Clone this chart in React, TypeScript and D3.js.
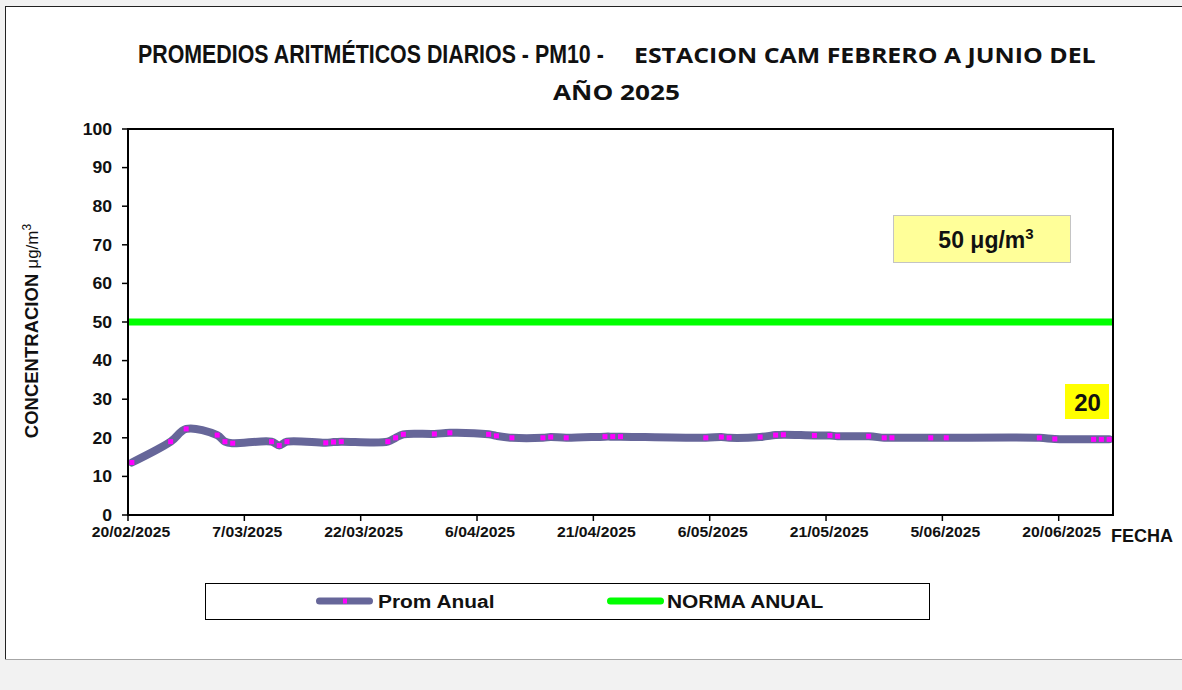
import React, { useEffect, useRef } from "react";
import * as d3 from "d3";

// fechas de muestreo y promedio (ug/m3)
const fechas = [
  "2025-02-20", "2025-02-25", "2025-02-27", "2025-03-03", "2025-03-04", "2025-03-05",
  "2025-03-10", "2025-03-11", "2025-03-12", "2025-03-17", "2025-03-18", "2025-03-19",
  "2025-03-25", "2025-03-26", "2025-03-27", "2025-03-31", "2025-04-02", "2025-04-07",
  "2025-04-08", "2025-04-10", "2025-04-14", "2025-04-15", "2025-04-17", "2025-04-22",
  "2025-04-23", "2025-04-24", "2025-05-05", "2025-05-07", "2025-05-08", "2025-05-12",
  "2025-05-14", "2025-05-15", "2025-05-19", "2025-05-21", "2025-05-22", "2025-05-26",
  "2025-05-28", "2025-05-29", "2025-06-03", "2025-06-05", "2025-06-17", "2025-06-19",
  "2025-06-24", "2025-06-25", "2025-06-26",
];
const promAnual = [
  13.6, 19.0, 22.3, 20.7, 19.0, 18.6,
  19.0, 18.0, 19.0, 18.7, 18.9, 19.0,
  19.0, 20.0, 20.9, 21.0, 21.3, 20.9,
  20.5, 20.0, 20.0, 20.2, 20.0, 20.3,
  20.3, 20.3, 20.0, 20.2, 20.0, 20.2,
  20.7, 20.8, 20.6, 20.6, 20.4, 20.4,
  20.0, 20.0, 20.0, 20.0, 20.0, 19.7,
  19.6, 19.6, 19.6,
];
const normaAnual = 50;
const rangoFechas = ["2025-02-20", "2025-06-27"];
const xTicks = [
  "2025-02-20", "2025-03-07", "2025-03-22", "2025-04-06", "2025-04-21",
  "2025-05-06", "2025-05-21", "2025-06-05", "2025-06-20",
];
const yTicks = [0, 10, 20, 30, 40, 50, 60, 70, 80, 90, 100];
const series = ["Prom Anual", "NORMA ANUAL"];
const titulo = ["PROMEDIOS ARITMÉTICOS DIARIOS - PM10 -", "ESTACION CAM FEBRERO A JUNIO DEL", "AÑO 2025"];
const etiquetaNorma = "50";
const etiquetaUltimo = "20";

const ARIAL = "'Liberation Sans', Arial, sans-serif";

export default function App() {
  const ref = useRef<SVGSVGElement>(null);

  useEffect(() => {
    const m = { left: 128, right: 1113, top: 129, bottom: 515 };
    const parse = d3.utcParse("%Y-%m-%d");
    const fmt = d3.utcFormat("%-d/%m/%Y");
    const x = d3.scaleUtc().domain(rangoFechas.map((s) => parse(s)!)).range([m.left, m.right]);
    const y = d3.scaleLinear().domain([0, 100]).range([m.bottom, m.top]);
    const data = fechas.map((f, i) => ({ date: d3.utcHour.offset(parse(f)!, 12), v: promAnual[i] }));

    const svg = d3.select(ref.current);
    svg.selectAll("*").remove();

    // texto comprimido/estirado en horizontal hasta un ancho dado
    const fitText = (tx: number, ty: number, w: number, txt: string, family: string, size: number) => {
      const t = svg.append("text").attr("font-family", family).attr("font-weight", "bold")
        .attr("font-size", size).attr("fill", "#111").text(txt);
      const n = (t.node() as SVGTextElement).getComputedTextLength() || w;
      t.attr("transform", `translate(${tx},${ty}) scale(${w / n},1)`);
      return t;
    };

    // panel blanco
    svg.append("rect").attr("x", 5).attr("y", 6).attr("width", 1177).attr("height", 653).attr("fill", "#fff");
    svg.append("line").attr("x1", 5.5).attr("x2", 5.5).attr("y1", 6).attr("y2", 659).attr("stroke", "#222");
    svg.append("line").attr("x1", 5).attr("x2", 1182).attr("y1", 6.5).attr("y2", 6.5).attr("stroke", "#222");
    svg.append("line").attr("x1", 5).attr("x2", 1182).attr("y1", 659.5).attr("y2", 659.5).attr("stroke", "#a6a6a6");

    // titulo
    fitText(138, 63, 466, titulo[0], "'Liberation Sans Narrow', 'Liberation Sans', Arial", 25);
    fitText(634, 63, 462, titulo[1], "'Open Sans', sans-serif", 22);
    fitText(553, 100, 127, titulo[2], "'Open Sans', sans-serif", 22);

    // norma
    svg.append("line")
      .attr("x1", x.range()[0]).attr("x2", x.range()[1])
      .attr("y1", y(normaAnual)).attr("y2", y(normaAnual))
      .attr("stroke", "#00ff00").attr("stroke-width", 7);

    // promedio
    const line = d3.line<{ date: Date; v: number }>()
      .x((d) => x(d.date)).y((d) => y(d.v))
      .curve(d3.curveCatmullRom.alpha(0.5));
    svg.append("path").datum(data).attr("d", line).attr("fill", "none")
      .attr("stroke", "#666699").attr("stroke-width", 8)
      .attr("stroke-linecap", "round").attr("stroke-linejoin", "round");
    svg.append("g").selectAll("rect").data(data).enter().append("rect")
      .attr("x", (d) => x(d.date) - 2.5).attr("y", (d) => y(d.v) - 2.5)
      .attr("width", 5).attr("height", 5).attr("fill", "#ff00ff");

    // marco
    svg.append("rect").attr("x", m.left).attr("y", m.top)
      .attr("width", m.right - m.left).attr("height", m.bottom - m.top)
      .attr("fill", "none").attr("stroke", "#000").attr("stroke-width", 2);

    // eje y
    const gy = svg.append("g").selectAll("g").data(yTicks).enter().append("g");
    gy.append("line").attr("x1", m.left - 6).attr("x2", m.left)
      .attr("y1", (d) => y(d)).attr("y2", (d) => y(d)).attr("stroke", "#000").attr("stroke-width", 1.5);
    gy.append("text").attr("transform", (d) => `translate(112,${y(d)}) scale(1.1,1)`)
      .attr("dy", "0.36em").attr("text-anchor", "end")
      .attr("font-family", ARIAL).attr("font-weight", "bold").attr("font-size", 16)
      .attr("fill", "#111").text((d) => d);

    // eje x
    const gx = svg.append("g").selectAll("g").data(xTicks.map((s) => parse(s)!)).enter().append("g");
    gx.append("line").attr("x1", (d) => x(d)).attr("x2", (d) => x(d))
      .attr("y1", m.bottom).attr("y2", m.bottom + 6).attr("stroke", "#000").attr("stroke-width", 1.5);
    gx.append("text").attr("transform", (d) => `translate(${x(d) + 3},537) scale(1.05,1)`)
      .attr("text-anchor", "middle")
      .attr("font-family", ARIAL).attr("font-weight", "bold").attr("font-size", 15)
      .attr("fill", "#111").text((d) => fmt(d));

    svg.append("text").attr("x", 1111).attr("y", 542)
      .attr("font-family", ARIAL).attr("font-weight", "bold").attr("font-size", 18)
      .attr("fill", "#111").text("FECHA");

    // titulo eje y
    const yl = svg.append("text").attr("transform", "translate(38,331) rotate(-90)")
      .attr("text-anchor", "middle").attr("font-family", ARIAL).attr("fill", "#111");
    yl.append("tspan").attr("font-weight", "bold").attr("font-size", 18.5).text("CONCENTRACION ");
    yl.append("tspan").attr("font-size", 17).text("μg/m");
    yl.append("tspan").attr("font-size", 12).attr("dy", -7).text("3");

    // caja norma
    svg.append("rect").attr("x", 893.5).attr("y", 215.5).attr("width", 177).attr("height", 47)
      .attr("fill", "#ffff99").attr("stroke", "#c4c4c4");
    const tn = svg.append("text").attr("x", 986).attr("y", 248).attr("text-anchor", "middle")
      .attr("font-family", ARIAL).attr("font-weight", "bold").attr("font-size", 23).attr("fill", "#111");
    tn.append("tspan").text(`${etiquetaNorma} μg/m`);
    tn.append("tspan").attr("font-size", 15).attr("dy", -9).text("3");

    // caja ultimo valor
    svg.append("rect").attr("x", 1065).attr("y", 384).attr("width", 44).attr("height", 35).attr("fill", "#ffff00");
    svg.append("text").attr("x", 1087.5).attr("y", 411).attr("text-anchor", "middle")
      .attr("font-family", ARIAL).attr("font-weight", "bold").attr("font-size", 24)
      .attr("fill", "#111").text(etiquetaUltimo);

    // leyenda
    svg.append("rect").attr("x", 205.5).attr("y", 583.5).attr("width", 724).attr("height", 36)
      .attr("fill", "#fff").attr("stroke", "#000");
    svg.append("line").attr("x1", 319.5).attr("x2", 369.5).attr("y1", 601).attr("y2", 601)
      .attr("stroke", "#666699").attr("stroke-width", 7).attr("stroke-linecap", "round");
    svg.append("rect").attr("x", 343).attr("y", 598.5).attr("width", 4).attr("height", 5).attr("fill", "#ff00ff");
    svg.append("line").attr("x1", 610.5).attr("x2", 660.5).attr("y1", 601).attr("y2", 601)
      .attr("stroke", "#00ff00").attr("stroke-width", 7).attr("stroke-linecap", "round");
    [378, 667].forEach((lx, i) => {
      svg.append("text").attr("transform", `translate(${lx},608) scale(1.1,1)`)
        .attr("font-family", ARIAL).attr("font-weight", "bold").attr("font-size", 19)
        .attr("fill", "#111").text(series[i]);
    });
  }, []);

  return (
    <div style={{ position: "fixed", left: 0, top: 0, width: 1182, height: 690, background: "#f2f2f2" }}>
      <svg ref={ref} width={1182} height={690} style={{ display: "block" }} />
    </div>
  );
}
